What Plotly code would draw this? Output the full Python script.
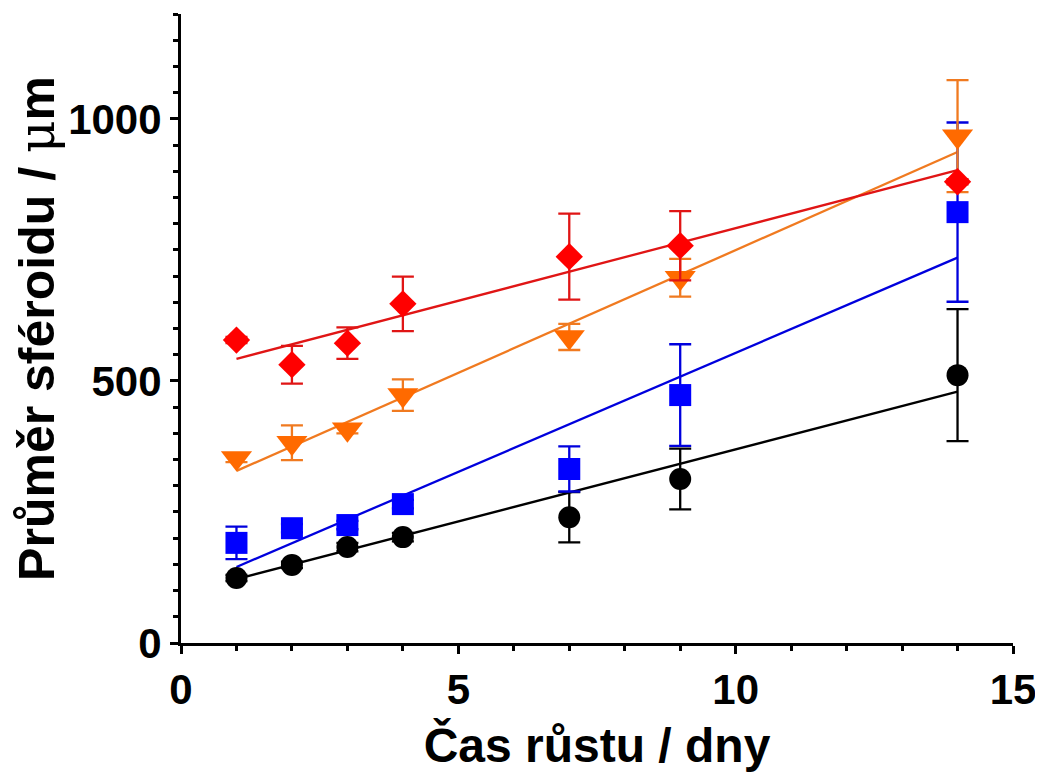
import plotly.graph_objects as go
import numpy as np

# Days of growth
days = [1, 2, 3, 4, 7, 9, 14]

# Spheroid diameters (µm) for four series
black_y = [124, 149, 183, 202, 240, 313, 511]
black_err = [6, 6, 8, 8, 48, 58, 126]
blue_y = [191, 219, 225, 265, 332, 473, 822]
blue_err = [31, 8, 8, 8, 43, 97, 171]
orange_y = [353, 382, 408, 473, 584, 697, 967]
orange_err = [8, 33, 8, 30, 25, 36, 107]
red_y = [578, 531, 572, 647, 737, 758, 880]
red_err = [6, 36, 30, 52, 82, 66, 5]

# Linear fits (slope, intercept)
black_fit = [27.5, 94.5]
blue_fit = [45.4, 99.6]
orange_fit = [46.8, 281.5]
red_fit = [27.7, 514.5]

series = [
    ("black", black_y, black_err, black_fit, "circle", 22, "#000000", "#000000"),
    ("blue", blue_y, blue_err, blue_fit, "square", 22, "#0000FF", "#0000DD"),
    ("orange", orange_y, orange_err, orange_fit, "triangle-down", 27, "#FF6A00", "#F07A20"),
    ("red", red_y, red_err, red_fit, "diamond", 21, "#FF0000", "#E01515"),
]

fig = go.Figure()

# fit lines first (below markers)
for name, ys, errs, fit, sym, sz, mcol, lcol in series:
    xf = np.array([days[0], days[-1]], dtype=float)
    yf = fit[0] * xf + fit[1]
    fig.add_trace(go.Scatter(x=xf, y=yf, mode="lines",
                             line=dict(color=lcol, width=2.3),
                             showlegend=False, hoverinfo="skip"))

for name, ys, errs, fit, sym, sz, mcol, lcol in series:
    fig.add_trace(go.Scatter(
        x=days, y=ys, mode="markers", name=name,
        marker=dict(symbol=sym, size=sz, color=mcol, line=dict(width=0)),
        error_y=dict(type="data", array=errs, visible=True,
                     color=lcol, thickness=2.3, width=11),
        showlegend=False))

font_family = "Liberation Sans, Arial, sans-serif"

fig.update_layout(
    width=1035, height=764,
    margin=dict(l=173, r=30, t=6, b=129),
    paper_bgcolor="white", plot_bgcolor="white",
    showlegend=False,
    xaxis=dict(
        range=[0, 15], tickvals=[0, 5, 10, 15], automargin=False,
        showline=True, linecolor="black", linewidth=3,
        ticks="outside", ticklen=8, tickwidth=3, tickcolor="black",
        minor=dict(dtick=1, ticks="outside", ticklen=5, tickwidth=3, tickcolor="black"),
        showgrid=False, zeroline=False,
        tickfont=dict(family=font_family, size=42, color="black", weight="bold"),
        title=dict(text="Čas růstu / dny", standoff=18,
                   font=dict(family=font_family, size=48, color="black", weight="bold")),
    ),
    yaxis=dict(
        range=[0, 1200], tickvals=[0, 500, 1000], automargin=False,
        showline=True, linecolor="black", linewidth=3,
        ticks="outside", ticklen=8, tickwidth=3, tickcolor="black",
        minor=dict(dtick=50, ticks="outside", ticklen=5, tickwidth=3, tickcolor="black"),
        showgrid=False, zeroline=False,
        tickfont=dict(family=font_family, size=42, color="black", weight="bold"),
        title=dict(text="Průměr sféroidu / <span style=\"font-weight:normal;font-family:'DejaVu Serif'\">μ</span>m",
                   standoff=0,
                   font=dict(family=font_family, size=50, color="black", weight="bold")),
    ),
)

fig.write_html("out.html")
